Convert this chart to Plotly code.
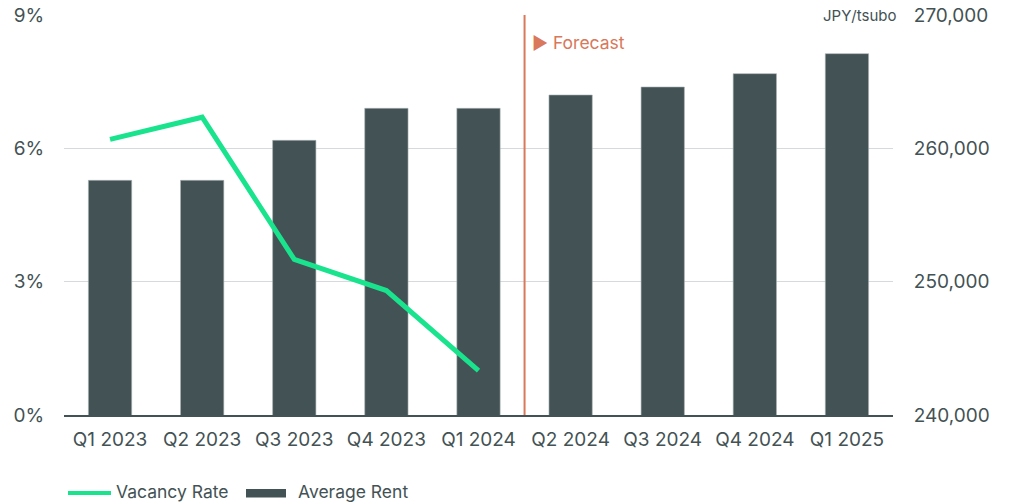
import plotly.graph_objects as go

# Quarterly office market figures
quarters = ["Q1 2023", "Q2 2023", "Q3 2023", "Q4 2023", "Q1 2024",
            "Q2 2024", "Q3 2024", "Q4 2024", "Q1 2025"]
average_rent = [257600, 257600, 260600, 263000, 263000,
                264000, 264600, 265600, 267100]          # JPY/tsubo
vacancy_quarters = quarters[:5]
vacancy_rate = [6.2, 6.7, 3.5, 2.8, 1.0]                 # %

rent_ticks = [240000, 250000, 260000, 270000]
vacancy_ticks = [0, 3, 6, 9]
vacancy_tick_text = ["0%", "3%", "6%", "9%"]

BAR = "#435254"
GREEN = "#19e48d"
ORANGE = "#d9785a"
GRID = "#d6dadd"
TEXT = "#435254"
FONT = "Inter"

# plot area in pixels (used to place the hand-drawn legend)
ML, MR, MT, MB = 64, 120, 15, 88
W, H = 1013, 503
PW, PH = W - ML - MR, H - MT - MB


def px_x(px):
    return (px - ML) / PW


def px_y(py):
    return (H - MB - py) / PH


fig = go.Figure()

# Average rent bars (right axis)
fig.add_trace(go.Bar(
    x=quarters, y=average_rent, yaxis="y",
    marker=dict(color=BAR, line=dict(color="#a9b2b3", width=0.6)),
    showlegend=False, name="Average Rent",
))

# Vacancy rate line (left axis)
fig.add_trace(go.Scatter(
    x=vacancy_quarters, y=vacancy_rate, yaxis="y2",
    mode="lines", line=dict(color=GREEN, width=5),
    showlegend=False, name="Vacancy Rate",
))

# Forecast divider
fig.add_shape(type="line", xref="x", yref="paper", x0=4.5, x1=4.5, y0=0, y1=1,
              line=dict(color=ORANGE, width=2))
fig.add_annotation(xref="x", yref="paper", x=4.5, y=0.932, xshift=5,
                   text="▶ Forecast", showarrow=False, xanchor="left",
                   yanchor="middle", font=dict(family=FONT, size=17.5, color=ORANGE))

# Unit label on the right axis
fig.add_annotation(xref="paper", yref="paper", x=px_x(898), y=1.0,
                   text="JPY/tsubo", showarrow=False, xanchor="right",
                   yanchor="middle", bgcolor="white", borderpad=1,
                   font=dict(family=FONT, size=15, color=TEXT))

# Legend below the chart
fig.add_shape(type="line", xref="paper", yref="paper",
              x0=px_x(68), x1=px_x(111), y0=px_y(493), y1=px_y(493),
              line=dict(color=GREEN, width=4))
fig.add_annotation(xref="paper", yref="paper", x=px_x(114), y=px_y(492),
                   text="Vacancy Rate", showarrow=False, xanchor="left",
                   yanchor="middle", font=dict(family=FONT, size=17.5, color=TEXT))
fig.add_shape(type="rect", xref="paper", yref="paper",
              x0=px_x(246), x1=px_x(286), y0=px_y(497.5), y1=px_y(489),
              fillcolor=BAR, line=dict(width=0))
fig.add_annotation(xref="paper", yref="paper", x=px_x(296), y=px_y(492),
                   text="Average Rent", showarrow=False, xanchor="left",
                   yanchor="middle", font=dict(family=FONT, size=17.5, color=TEXT))

TICK_FONT = dict(family=FONT, size=19, color=TEXT)

fig.update_layout(
    width=W, height=H,
    margin=dict(l=ML, r=MR, t=MT, b=MB, autoexpand=False),
    paper_bgcolor="white", plot_bgcolor="white",
    font=dict(family=FONT, size=19, color=TEXT),
    bargap=0.53, showlegend=False,
    xaxis=dict(
        type="category", categoryorder="array", categoryarray=quarters,
        showgrid=False, showline=True, linecolor=BAR, linewidth=2,
        ticks="outside", ticklen=6, tickcolor="rgba(0,0,0,0)",
        tickfont=TICK_FONT, range=[-0.5, 8.5], fixedrange=True,
    ),
    yaxis=dict(
        side="right", range=[240000, 270000], tickvals=rent_ticks,
        tickformat=",d", showgrid=True, gridcolor=GRID, gridwidth=1,
        zeroline=False, showline=False,
        ticks="outside", ticklen=16, tickcolor="rgba(0,0,0,0)",
        tickfont=TICK_FONT,
    ),
    yaxis2=dict(
        side="left", overlaying="y", range=[0, 9],
        tickvals=vacancy_ticks, ticktext=vacancy_tick_text,
        showgrid=False, zeroline=False, showline=False,
        ticks="outside", ticklen=15, tickcolor="rgba(0,0,0,0)",
        tickfont=TICK_FONT,
    ),
)

fig.write_html("out.html")
